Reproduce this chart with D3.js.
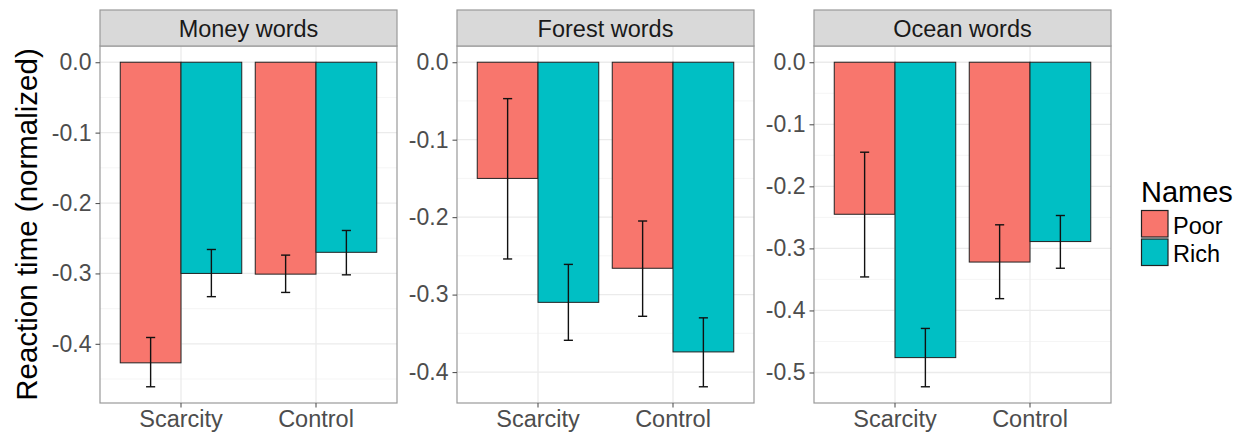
<!DOCTYPE html>
<html>
<head>
<meta charset="utf-8">
<script src="https://cdn.jsdelivr.net/npm/d3@7"></script>
<style>
  body { margin: 0; background: #fff; }
  text { font-family: "Liberation Sans", Arial, sans-serif; }
</style>
</head>
<body>
<div id="chart"></div>
<script>
// data
var facets = ["Money words", "Forest words", "Ocean words"];
var conditions = ["Scarcity", "Control"];
var names = ["Poor", "Rich"];
var colours = ["#F8766D", "#00BFC4"];

// means[facet][condition][name]
var means = [
    [[-0.427, -0.300], [-0.301, -0.270]],
    [[-0.150, -0.310], [-0.266, -0.374]],
    [[-0.245, -0.476], [-0.322, -0.289]]
];
var errLow = [
    [[-0.461, -0.333], [-0.327, -0.302]],
    [[-0.254, -0.359], [-0.328, -0.419]],
    [[-0.346, -0.523], [-0.381, -0.332]]
];
var errHigh = [
    [[-0.391, -0.266], [-0.274, -0.239]],
    [[-0.047, -0.261], [-0.205, -0.330]],
    [[-0.145, -0.429], [-0.262, -0.247]]
];

var WIDTH = 1246, HEIGHT = 438;
var PANELLEFT = [100, 457, 814];
var PANELW = 297;
var PANELTOP = 46, PANELBOTTOM = 403;
var STRIPTOP = 10;

var svg = d3.select("#chart").append("svg")
    .attr("width", WIDTH)
    .attr("height", HEIGHT);

var fmt = function(d){ return d3.format(".1f")(d).replace("\u2212", "-"); };

facets.forEach(function(facet, fi){
    var g = svg.append("g")
        .attr("class", "panel")
        .attr("transform", "translate(" + PANELLEFT[fi] + ",0)");

    // free y scale with ggplot-style 5% expansion
    var lo = d3.min(errLow[fi], function(c){ return d3.min(c); });
    var hi = 0;
    var pad = (hi - lo) * 0.05;
    var y = d3.scaleLinear().domain([lo - pad, hi + pad]).range([PANELBOTTOM, PANELTOP]);

    var x = d3.scaleBand().domain(conditions).range([0, PANELW])
        .paddingInner(0.1).paddingOuter(0.15);
    var xs = d3.scaleBand().domain(names).range([0, x.bandwidth()]);
    var xc = function(c){ return x(c) + x.bandwidth() / 2; };

    var majors = y.ticks(5);
    var minors = majors.map(function(t){ return t - 0.05; })
        .filter(function(t){ return t > y.domain()[0] && t < y.domain()[1]; });

    g.selectAll(".minor").data(minors).enter().append("line")
        .attr("x1", 0).attr("x2", PANELW)
        .attr("y1", y).attr("y2", y)
        .attr("stroke", "#f2f2f2").attr("stroke-width", 0.8);
    g.selectAll(".major").data(majors).enter().append("line")
        .attr("x1", 0).attr("x2", PANELW)
        .attr("y1", y).attr("y2", y)
        .attr("stroke", "#ebebeb").attr("stroke-width", 1.3);
    g.selectAll(".vmajor").data(conditions).enter().append("line")
        .attr("x1", xc).attr("x2", xc)
        .attr("y1", PANELTOP).attr("y2", PANELBOTTOM)
        .attr("stroke", "#ebebeb").attr("stroke-width", 1.3);

    // bars
    conditions.forEach(function(cond, ci){
        names.forEach(function(nm, ni){
            var v = means[fi][ci][ni];
            g.append("rect")
                .attr("x", x(cond) + xs(nm))
                .attr("width", xs.bandwidth())
                .attr("y", y(0))
                .attr("height", y(v) - y(0))
                .attr("fill", colours[ni])
                .attr("stroke", "#222")
                .attr("stroke-width", 1);
        });
    });

    // error bars
    conditions.forEach(function(cond, ci){
        names.forEach(function(nm, ni){
            var cx = x(cond) + xs(nm) + xs.bandwidth() / 2;
            var hw = xs.bandwidth() * 0.075;
            var y1 = y(errHigh[fi][ci][ni]), y2 = y(errLow[fi][ci][ni]);
            var eb = g.append("g").attr("stroke", "#111").attr("stroke-width", 1.4);
            eb.append("line").attr("x1", cx).attr("x2", cx).attr("y1", y1).attr("y2", y2);
            eb.append("line").attr("x1", cx - hw).attr("x2", cx + hw).attr("y1", y1).attr("y2", y1);
            eb.append("line").attr("x1", cx - hw).attr("x2", cx + hw).attr("y1", y2).attr("y2", y2);
        });
    });

    // panel border
    g.append("rect")
        .attr("x", 0).attr("y", PANELTOP)
        .attr("width", PANELW).attr("height", PANELBOTTOM - PANELTOP)
        .attr("fill", "none").attr("stroke", "#999").attr("stroke-width", 1.2);

    // strip
    g.append("rect")
        .attr("x", 0).attr("y", STRIPTOP)
        .attr("width", PANELW).attr("height", PANELTOP - STRIPTOP)
        .attr("fill", "#d9d9d9").attr("stroke", "#999").attr("stroke-width", 1.2);
    g.append("text")
        .attr("x", PANELW / 2).attr("y", 37)
        .attr("text-anchor", "middle")
        .attr("font-size", "23.5px")
        .attr("fill", "#1a1a1a")
        .text(facet);

    // axes
    var yAxis = g.append("g")
        .call(d3.axisLeft(y).tickValues(majors).tickFormat(fmt).tickSize(4.5).tickPadding(4));
    yAxis.select(".domain").remove();
    yAxis.selectAll(".tick line").attr("stroke", "#555").attr("stroke-width", 1.1);
    yAxis.selectAll(".tick text")
        .attr("font-size", "23px").attr("fill", "#4d4d4d")
        .attr("font-family", "Liberation Sans, Arial, sans-serif");

    var xAxis = g.append("g")
        .attr("transform", "translate(0," + PANELBOTTOM + ")")
        .call(d3.axisBottom(x).tickSize(4.5).tickPadding(3));
    xAxis.select(".domain").remove();
    xAxis.selectAll(".tick line").attr("stroke", "#555").attr("stroke-width", 1.1);
    xAxis.selectAll(".tick text")
        .attr("font-size", "23.5px").attr("fill", "#4d4d4d")
        .attr("font-family", "Liberation Sans, Arial, sans-serif");
});

// y axis title
svg.append("text")
    .attr("transform", "translate(37," + ((PANELTOP + PANELBOTTOM) / 2) + ") rotate(-90)")
    .attr("text-anchor", "middle")
    .attr("font-size", "29.5px")
    .attr("fill", "#000")
    .text("Reaction time (normalized)");

// legend
var legend = svg.append("g").attr("transform", "translate(1141,0)");
legend.append("text")
    .attr("x", 0).attr("y", 202)
    .attr("font-size", "29px")
    .attr("fill", "#000")
    .text("Names");
names.forEach(function(nm, i){
    var top = 210.5 + i * 28.5;
    legend.append("rect")
        .attr("x", 0.5).attr("y", top)
        .attr("width", 26.5).attr("height", 26.5)
        .attr("fill", colours[i]).attr("stroke", "#222").attr("stroke-width", 1.2);
    legend.append("text")
        .attr("x", 32).attr("y", top + 23)
        .attr("font-size", "23.5px")
        .attr("fill", "#000")
        .text(nm);
});
</script>
</body>
</html>
